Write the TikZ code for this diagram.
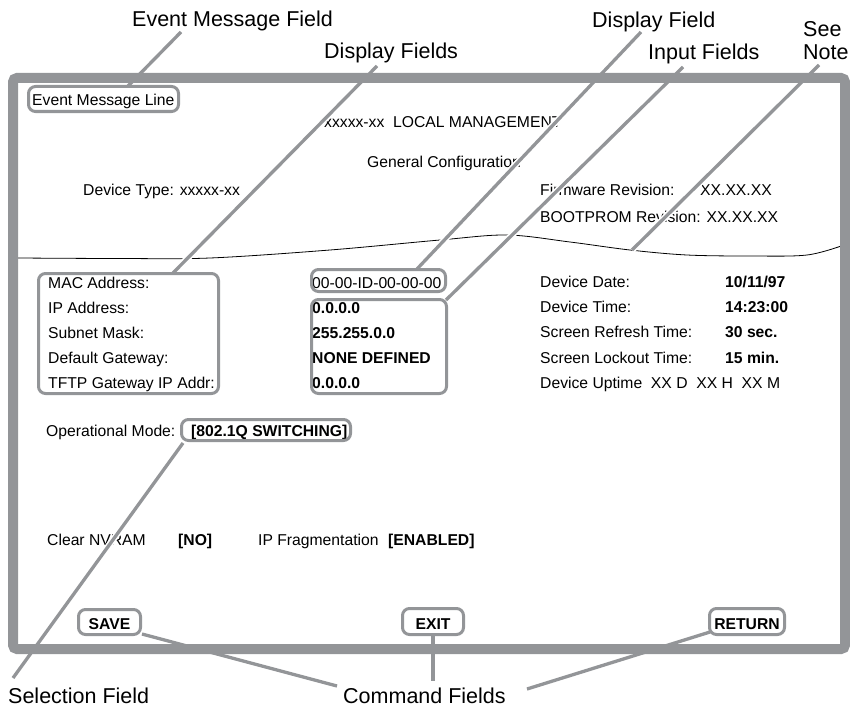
\documentclass[tikz,border=0pt]{standalone}
\usepackage{fontspec}
\setmainfont{Liberation Sans}
\newcommand\LblFont{\fontsize{21.5}{24}\selectfont}
\newcommand\ScrFont{\fontsize{15.7}{18}\selectfont}
\newcommand\ScrBFont{\fontsize{15.7}{18}\selectfont\bfseries}
\definecolor{framegray}{HTML}{939598}
\tikzset{
  lbl/.style={font=\LblFont, inner sep=0pt, anchor=base west},
  scr/.style={font=\ScrFont, inner sep=0pt, anchor=base west},
  scrb/.style={font=\ScrBFont, inner sep=0pt, anchor=base west},
  btn/.style={font=\ScrBFont, inner sep=0pt, anchor=base},
  fld/.style={draw=framegray, line width=3pt, rounded corners=7pt},
  lead/.style={draw=framegray, line width=3.3pt},
  halo/.style={draw=white, line width=6.5pt},
  frm/.style={draw=framegray, line width=10pt, rounded corners=4pt},
}
\begin{document}
\begin{tikzpicture}[x=1pt,y=-1pt]
\useasboundingbox (0,0) rectangle (850,706);

% ---------- outside labels ----------
\node[lbl] (emf) at (132,27) {Event Message Field};
\node[lbl] (dfs) at (324,59) {Display Fields};
\node[lbl] (df)  at (592,28) {Display Field};
\node[lbl] (inf) at (648,60) {Input Fields};
\node[lbl] (see) at (803,37) {See};
\node[lbl] (note) at (803,60) {Note};
\node[lbl] (self) at (8,703) {Selection Field};
\node[lbl] (cmdf) at (343,703) {Command Fields};

% ---------- screen text ----------
\node[scr] (eml) at (32,106) {Event Message Line};
\node[scr] (title) at (324,127) {xxxxx-xx\ \ LOCAL MANAGEMENT};
\node[scr] (gc) at (367,167) {General Configuration};
\node[scr] (dt) at (83,195) {Device Type: xxxxx-xx};
\node[scr] (fw) at (540,195) {Firmware Revision:};
\node[scr] (fwv) at (700,195) {XX.XX.XX};
\node[scr] (bp) at (540,222) {BOOTPROM Revision: XX.XX.XX};

\node[scr] (mac) at (48,288) {MAC Address:};
\node[scr] (ip) at (48,313) {IP Address:};
\node[scr] (sn) at (48,338) {Subnet Mask:};
\node[scr] (dg) at (48,363) {Default Gateway:};
\node[scr] (tftp) at (48,388) {TFTP Gateway IP Addr:};

\node[scr] (macv) at (312,288) {00-00-ID-00-00-00};
\node[scrb] (ipv) at (312,313) {0.0.0.0};
\node[scrb] (snv) at (312,338) {255.255.0.0};
\node[scrb] (dgv) at (312,363) {NONE DEFINED};
\node[scrb] (tftpv) at (312,388) {0.0.0.0};

\node[scr] (dd) at (540,287) {Device Date:};
\node[scr] (dtm) at (540,312) {Device Time:};
\node[scr] (srt) at (540,337.5) {Screen Refresh Time:};
\node[scr] (slt) at (540,363) {Screen Lockout Time:};
\node[scr] (dut) at (540,388) {Device Uptime\ \ XX D\ \ XX H\ \ XX M};
\node[scrb] (ddv) at (725,287) {10/11/97};
\node[scrb] (dtmv) at (725,312) {14:23:00};
\node[scrb] (srtv) at (725,337.5) {30 sec.};
\node[scrb] (sltv) at (725,363) {15 min.};

\node[scr] (om) at (46,436) {Operational Mode:};
\node[scrb] (omv) at (191,436) {[802.1Q SWITCHING]};

\node[scr] (cnv) at (47,545) {Clear NVRAM};
\node[scrb] (cnvv) at (178,545) {[NO]};
\node[scr] (ipf) at (258,545) {IP Fragmentation};
\node[scrb] (ipfv) at (388,545) {[ENABLED]};

\node[btn] (save) at (109.5,629) {SAVE};
\node[btn] (exit) at (433,629) {EXIT};
\node[btn] (ret) at (747,629) {RETURN};

% wave
\draw[line width=0.8pt] plot[smooth, tension=0.55] coordinates {(18,258) (120,258.5) (210,258) (330,250) (440,240) (507,235) (570,242) (630,250) (687,255) (750,256) (807,255) (844,245)};

% ---------- leader end points ----------
\coordinate (emf-a) at (181,32);   \coordinate (emf-b) at (128,86);
\coordinate (dfs-a) at (377,66);   \coordinate (dfs-b) at (173,273);
\coordinate (df-a)  at (641,32);   \coordinate (df-b)  at (417,269);
\coordinate (inf-a) at (683,67);   \coordinate (inf-b) at (446,300);
\coordinate (note-a) at (819,65);  \coordinate (note-b) at (632,250);
\coordinate (sel-a) at (183,443);  \coordinate (sel-b) at (13,678);
\coordinate (sv-a) at (142,634);   \coordinate (sv-b) at (337,686);
\coordinate (ex-a) at (433,636);   \coordinate (ex-b) at (433,681);
\coordinate (rt-a) at (710,632);   \coordinate (rt-b) at (527,689);

% halos
\foreach \p in {emf,dfs,df,inf,note,sel,sv,rt}{
  \draw[halo] (\p-a) -- (\p-b);
}

% frame
\draw[frm] (13,78) rectangle (845,649);

% field boxes
\draw[fld] (28.5,86.5) rectangle (178.5,111.5);
\draw[fld] (38.5,273.5) rectangle (218.5,393.5);
\draw[fld] (311.5,269.5) rectangle (445.5,291.5);
\draw[fld] (311.5,299.5) rectangle (446.5,393.5);
\draw[fld] (181.5,419.5) rectangle (350.5,440.5);
\draw[fld] (78.5,609.5) rectangle (140.5,634.5);
\draw[fld] (402.5,608.5) rectangle (463.5,634.5);
\draw[fld] (709.5,608.5) rectangle (784.5,634.5);

% leaders
\draw[lead] (emf-a) -- (emf-b);
\draw[lead] (dfs-a) -- (dfs-b);
\draw[lead] (df-a) -- (df-b);
\draw[lead] (inf-a) -- (inf-b);
\draw[lead] (note-a) -- (note-b);
\draw[lead] (sel-a) -- (sel-b);
\draw[lead] (sv-a) -- (sv-b);
\draw[lead] (ex-a) -- (ex-b);
\draw[lead] (rt-a) -- (rt-b);
\end{tikzpicture}
\end{document}
